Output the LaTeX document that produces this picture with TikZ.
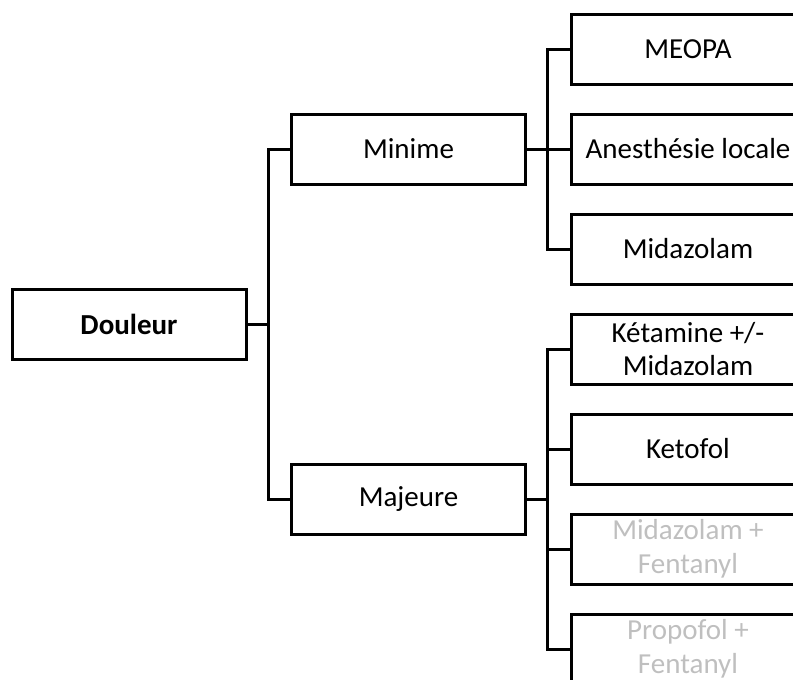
\documentclass[tikz,border=0pt]{standalone}
\usepackage{fontspec}
\setmainfont{Carlito}
\definecolor{lightgraytext}{HTML}{BFBFBF}
\tikzset{
  box/.style={draw=black, line width=3pt, rectangle, minimum width=234pt, minimum height=70pt,
    inner sep=2pt, align=center, font=\fontsize{29}{33.5}\selectfont},
  conn/.style={draw=black, line width=3pt},
  faded/.style={text=lightgraytext}
}
\begin{document}
\begin{tikzpicture}[x=1pt,y=-1pt]
\useasboundingbox (0,0) rectangle (793,680);
\clip (0,0) rectangle (793,680);
\node[box] (dou) at (129,324) {\textbf{Douleur}};
\node[box] (min) at (408.5,149) {Minime};
\node[box] (maj) at (408.5,499) {Majeure};
\node[box] (meo) at (688,49) {MEOPA};
\node[box] (ane) at (688,149) {Anesthésie locale};
\node[box] (mid) at (688,249) {Midazolam};
\node[box] (ket) at (688,349) {Kétamine +/-\\Midazolam};
\node[box] (kfl) at (688,449) {Ketofol};
\node[box, faded] (mfe) at (688,549) {Midazolam +\\Fentanyl};
\node[box, faded] (pfe) at (688,649) {Propofol +\\Fentanyl};
\coordinate (s0) at (268,324);
\coordinate (s1) at (547,149);
\coordinate (s2) at (547,499);
\draw[conn] (dou.east) -- (s0);
\draw[conn] (s0) |- (min.west);
\draw[conn] (s0) |- (maj.west);
\draw[conn] (min.east) -- (s1);
\draw[conn] (s1) |- (meo.west);
\draw[conn] (s1) |- (ane.west);
\draw[conn] (s1) |- (mid.west);
\draw[conn] (maj.east) -- (s2);
\draw[conn] (s2) |- (ket.west);
\draw[conn] (s2) |- (kfl.west);
\draw[conn] (s2) |- (mfe.west);
\draw[conn] (s2) |- (pfe.west);
\end{tikzpicture}
\end{document}
